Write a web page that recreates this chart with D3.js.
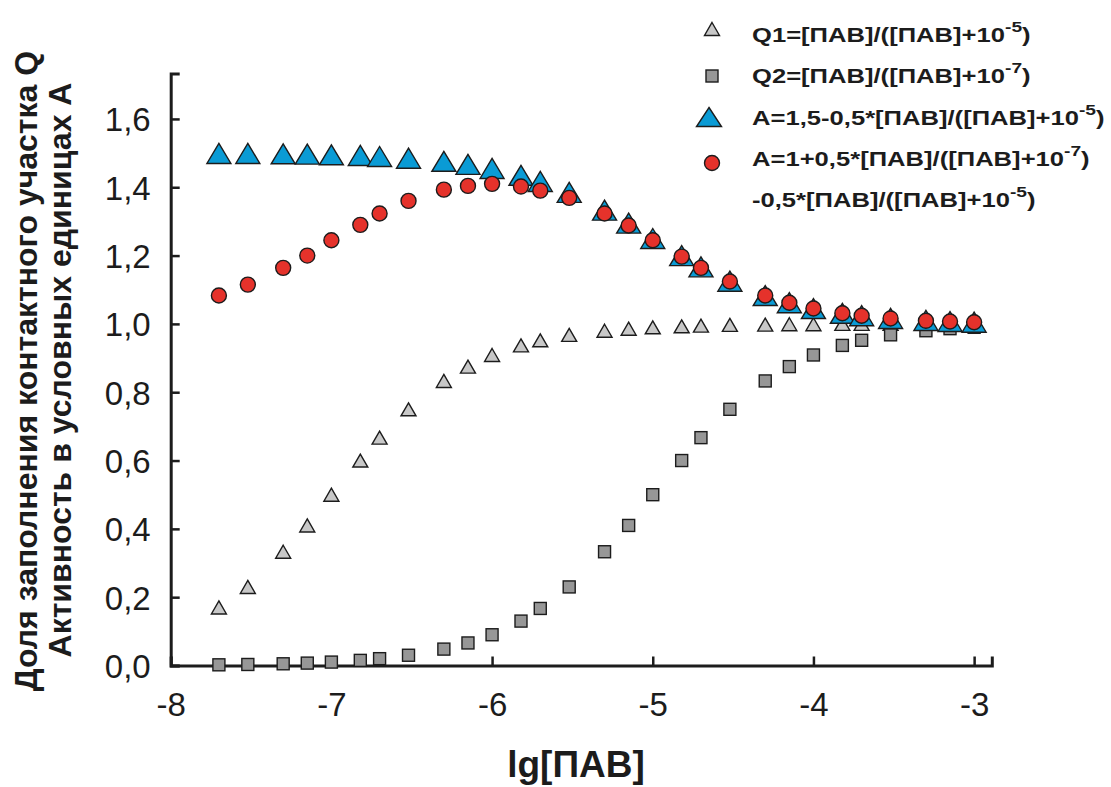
<!DOCTYPE html>
<html>
<head>
<meta charset="utf-8">
<script src="https://cdn.jsdelivr.net/npm/d3@7"></script>
<style>
  body { margin: 0; background: #fff; }
  svg { font-family: 'Liberation Sans', Arial, sans-serif; }
</style>
</head>
<body>
<svg id="chart" width="1111" height="787"></svg>
<script>
// lg[ПАВ] values
const lgC = [-7.70, -7.52, -7.30, -7.15, -7.00, -6.82, -6.70, -6.52, -6.30, -6.15, -6.00,
  -5.82, -5.70, -5.52, -5.30, -5.15, -5.00, -4.82, -4.70, -4.52, -4.30, -4.15, -4.00,
  -3.82, -3.70, -3.52, -3.30, -3.15, -3.00]
// gray triangles
const q1 = [0.17, 0.23, 0.333, 0.41, 0.50, 0.60, 0.667, 0.75, 0.833, 0.875, 0.909,
  0.937, 0.952, 0.968, 0.98, 0.986, 0.99, 0.993, 0.995, 0.997, 0.998, 0.999, 0.999,
  1.0, 1.0, 1.0, 1.0, 1.0, 1.0]
// gray squares
const q2 = [0.002, 0.003, 0.005, 0.007, 0.01, 0.015, 0.02, 0.03, 0.048, 0.066, 0.09,
  0.13, 0.167, 0.23, 0.333, 0.41, 0.50, 0.60, 0.667, 0.75, 0.833, 0.875, 0.909,
  0.937, 0.952, 0.968, 0.98, 0.986, 0.99]
// blue triangles
const aBlue = [1.499, 1.499, 1.498, 1.497, 1.495, 1.493, 1.49, 1.485, 1.476, 1.467, 1.455,
  1.435, 1.417, 1.385, 1.333, 1.295, 1.25, 1.20, 1.167, 1.125, 1.083, 1.062, 1.045,
  1.031, 1.024, 1.016, 1.01, 1.007, 1.005]
// red circles
const aRed = [1.083, 1.115, 1.164, 1.20, 1.245, 1.29, 1.323, 1.36, 1.393, 1.404, 1.41,
  1.402, 1.39, 1.369, 1.323, 1.288, 1.245, 1.197, 1.164, 1.124, 1.083, 1.062, 1.045,
  1.031, 1.024, 1.016, 1.009, 1.007, 1.005]
const xTicks = [-8, -7, -6, -5, -4, -3]
const yTicks = [0, 0.2, 0.4, 0.6, 0.8, 1.0, 1.2, 1.4, 1.6]

const ink = '#1c1c1c'
const svg = d3.select('#chart')

const x = d3.scaleLinear().domain([-8, -2.89]).range([170.7, 991.8])
const y = d3.scaleLinear().domain([0, 1.733]).range([665.5, 73.5])

// triangle path centred on its bounding box
function tri (w, h) {
  return `M0,${-h / 2}L${w / 2},${h / 2}L${-w / 2},${h / 2}Z`
}

// axes, ticks pointing inward
const xAxis = d3.axisBottom(x).tickValues(xTicks).tickSize(-9).tickPadding(27)
  .tickFormat(d => d3.format('d')(d).replace('−', '-'))
const yAxis = d3.axisLeft(y).tickValues(yTicks).tickSize(-9).tickPadding(20)
  .tickFormat(d => d3.format('.1f')(d).replace('.', ','))

const gx = svg.append('g').attr('transform', `translate(0,${y(0)})`).call(xAxis)
const gy = svg.append('g').attr('transform', `translate(${x(-8)},0)`).call(yAxis)
;[gx, gy].forEach(g => {
  g.select('.domain').attr('stroke', ink).attr('stroke-width', 3)
  g.selectAll('.tick line').attr('stroke', ink).attr('stroke-width', 2.5)
  g.selectAll('.tick text').attr('fill', ink).attr('font-size', 33)
    .attr('font-family', "'Liberation Sans', Arial, sans-serif")
})
gx.selectAll('.tick text').attr('dy', '0.71em')
gy.selectAll('.tick text').attr('dy', '0.36em')

// axis titles
svg.append('text')
  .attr('x', 576).attr('y', 777)
  .attr('text-anchor', 'middle')
  .attr('font-size', 37).attr('font-weight', 'bold').attr('fill', ink)
  .text('lg[ПАВ]')

svg.append('text')
  .attr('transform', 'translate(37,371) rotate(-90)')
  .attr('text-anchor', 'middle')
  .attr('font-size', 32).attr('font-weight', 'bold').attr('fill', ink)
  .text('Доля заполнения контактного участка Q')
svg.append('text')
  .attr('transform', 'translate(71,370) rotate(-90)')
  .attr('text-anchor', 'middle')
  .attr('font-size', 32).attr('font-weight', 'bold').attr('fill', ink)
  .text('Активность в условных единицах A')

const pts = lgC.map((v, i) => ({ x: v, q1: q1[i], q2: q2[i], b: aBlue[i], r: aRed[i] }))
const plot = svg.append('g')

plot.selectAll('.q1').data(pts).enter().append('path')
  .attr('class', 'q1')
  .attr('transform', d => `translate(${x(d.x)},${y(d.q1)})`)
  .attr('d', tri(15, 13))
  .attr('fill', '#c8c8c8').attr('stroke', ink).attr('stroke-width', 1.4)

plot.selectAll('.q2').data(pts).enter().append('rect')
  .attr('class', 'q2')
  .attr('x', d => x(d.x) - 6).attr('y', d => y(d.q2) - 6)
  .attr('width', 12).attr('height', 12)
  .attr('fill', '#979797').attr('stroke', ink).attr('stroke-width', 1.4)

plot.selectAll('.ab').data(pts).enter().append('path')
  .attr('class', 'ab')
  .attr('transform', d => `translate(${x(d.x)},${y(d.b)})`)
  .attr('d', tri(24, 20))
  .attr('fill', '#0a9bd5').attr('stroke', ink).attr('stroke-width', 1.4)

plot.selectAll('.ar').data(pts).enter().append('circle')
  .attr('class', 'ar')
  .attr('cx', d => x(d.x)).attr('cy', d => y(d.r)).attr('r', 7.5)
  .attr('fill', '#e5322b').attr('stroke', ink).attr('stroke-width', 1.4)

// legend
const legend = svg.append('g')
legend.append('path').attr('transform', 'translate(712,29)').attr('d', tri(15, 13))
  .attr('fill', '#c8c8c8').attr('stroke', ink).attr('stroke-width', 1.4)
legend.append('rect').attr('x', 706).attr('y', 70).attr('width', 12).attr('height', 12)
  .attr('fill', '#979797').attr('stroke', ink).attr('stroke-width', 1.4)
legend.append('path').attr('transform', 'translate(709,117)').attr('d', tri(25, 19))
  .attr('fill', '#0a9bd5').attr('stroke', ink).attr('stroke-width', 1.4)
legend.append('circle').attr('cx', 712).attr('cy', 163).attr('r', 7.5)
  .attr('fill', '#e5322b').attr('stroke', ink).attr('stroke-width', 1.4)

const legendLines = [
  ['Q1=[ПАВ]/([ПАВ]+10', '-5', ')'],
  ['Q2=[ПАВ]/([ПАВ]+10', '-7', ')'],
  ['A=1,5-0,5*[ПАВ]/([ПАВ]+10', '-5', ')'],
  ['A=1+0,5*[ПАВ]/([ПАВ]+10', '-7', ')'],
  ['-0,5*[ПАВ]/([ПАВ]+10', '-5', ')']
]
const lineY = [42, 83, 125, 166, 207]
legendLines.forEach((parts, i) => {
  const t = legend.append('text')
    .attr('transform', `translate(752,${lineY[i]}) scale(1.28,1)`)
    .attr('font-size', 20).attr('font-weight', 'bold').attr('fill', ink)
  t.append('tspan').text(parts[0])
  t.append('tspan').attr('dy', -10).attr('font-size', 15).text(parts[1])
  t.append('tspan').attr('dy', 10).text(parts[2])
})
</script>
</body>
</html>
